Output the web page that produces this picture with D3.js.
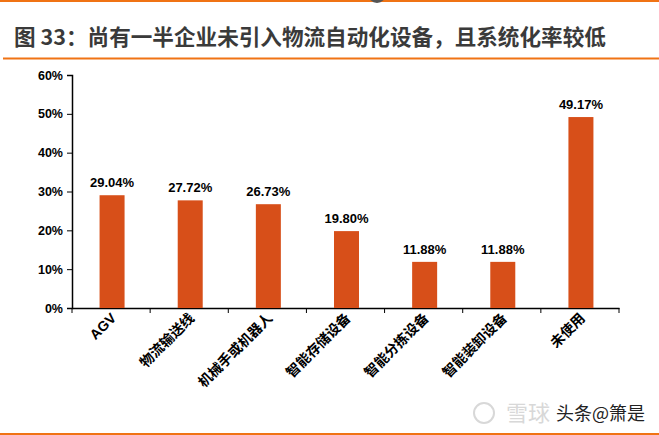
<!DOCTYPE html>
<html>
<head>
<meta charset="utf-8">
<script src="https://cdn.jsdelivr.net/npm/d3@7"></script>
<style>
body{margin:0;background:#fff;}
svg{display:block;font-family:Arial,"Liberation Sans","Noto Sans CJK SC",sans-serif;}
</style>
</head>
<body>
<svg id="chart" width="659" height="435"></svg>
<script>
// データ
var categories = ["AGV", "物流输送线", "机械手或机器人", "智能存储设备", "智能分拣设备", "智能装卸设备", "未使用"];
var values = [29.04, 27.72, 26.73, 19.80, 11.88, 11.88, 49.17];
var yTicks = [0, 10, 20, 30, 40, 50, 60];
var title = "图 33：尚有一半企业未引入物流自动化设备，且系统化率较低";

var barColor = "#d74f19";
var lineColor = "#f07314";

var svg = d3.select("#chart");

// 上下のオレンジ線
svg.append("line").attr("x1",0).attr("x2",659).attr("y1",1).attr("y2",1)
    .style("stroke",lineColor).style("stroke-width",2);
svg.append("circle").attr("cx",377).attr("cy",-6).attr("r",9).attr("fill","#555");
svg.append("line").attr("x1",3).attr("x2",659).attr("y1",58.5).attr("y2",58.5)
    .style("stroke",lineColor).style("stroke-width",2);
svg.append("line").attr("x1",0).attr("x2",659).attr("y1",434).attr("y2",434)
    .style("stroke",lineColor).style("stroke-width",2);

// タイトル
svg.append("text")
    .attr("x",14).attr("y",45)
    .style("font-size","21.6px")
    .style("font-weight","bold")
    .style("fill","#3a3a3a")
    .style("font-family","'Noto Sans CJK SC',sans-serif")
    .text(title);

var x = d3.scaleBand()
    .domain(categories)
    .range([72, 619]);
var y = d3.scaleLinear()
    .domain([0, 60])
    .range([308, 75]);

// y軸
var yAxis = svg.append("g")
    .attr("transform","translate(72,0)")
    .call(d3.axisLeft(y).tickValues(yTicks).tickSize(5).tickPadding(4)
        .tickFormat(function(d){ return d + "%"; }));
// x軸
var xAxis = svg.append("g")
    .attr("transform","translate(0,308)")
    .call(d3.axisBottom(x).tickSize(0).tickFormat(""));
xAxis.selectAll(".bnd")
    .data(categories.map(function(d){ return x(d); }).concat([x.range()[1]]))
    .enter().append("line")
    .attr("class","bnd")
    .attr("x1",function(d){ return d; })
    .attr("x2",function(d){ return d; })
    .attr("y1",0).attr("y2",5)
    .style("stroke","#000");

[yAxis, xAxis].forEach(function(a){
    a.select(".domain").style("stroke","#000").style("stroke-width",1.5);
    a.selectAll(".tick line").style("stroke","#000");
});
yAxis.selectAll("text")
    .style("font-size","12.5px")
    .style("font-weight","bold")
    .style("fill","#000");

// カテゴリラベル（斜め）
svg.append("g").selectAll("text")
    .data(categories)
    .enter().append("text")
    .attr("transform",function(d){
        return "translate(" + (x(d) + x.bandwidth()/2 + 6) + ",319) rotate(-45)";
    })
    .style("text-anchor","end")
    .style("font-size","14px")
    .style("font-weight","bold")
    .style("fill","#000")
    .text(function(d){ return d; });

// 棒
var bw = 25;
svg.append("g").selectAll("rect")
    .data(values)
    .enter().append("rect")
    .attr("x",function(d,i){ return x(categories[i]) + x.bandwidth()/2 - bw/2 + 1; })
    .attr("y",function(d){ return y(d); })
    .attr("width",bw)
    .attr("height",function(d){ return y(0) - y(d); })
    .attr("fill",barColor);

// 値ラベル
svg.append("g").selectAll("text")
    .data(values)
    .enter().append("text")
    .attr("x",function(d,i){ return x(categories[i]) + x.bandwidth()/2 + 1; })
    .attr("y",function(d){ return y(d) - 8; })
    .style("text-anchor","middle")
    .style("font-size","13px")
    .style("font-weight","bold")
    .style("fill","#000")
    .text(function(d){ return d.toFixed(2) + "%"; });

// ウォーターマーク
svg.append("circle").attr("cx",484).attr("cy",413).attr("r",10)
    .style("fill","none").style("stroke","#d8d8d8").style("stroke-width",2);
svg.append("text")
    .attr("x",506).attr("y",421)
    .style("font-size","22px")
    .style("fill","#d8d8d8")
    .style("font-family","'Noto Sans CJK SC',sans-serif")
    .text("雪球");
svg.append("text")
    .attr("x",556).attr("y",420)
    .style("font-size","18px")
    .style("fill","#222")
    .style("font-family","'Noto Sans CJK SC',sans-serif")
    .text("头条@箫是");
</script>
</body>
</html>
